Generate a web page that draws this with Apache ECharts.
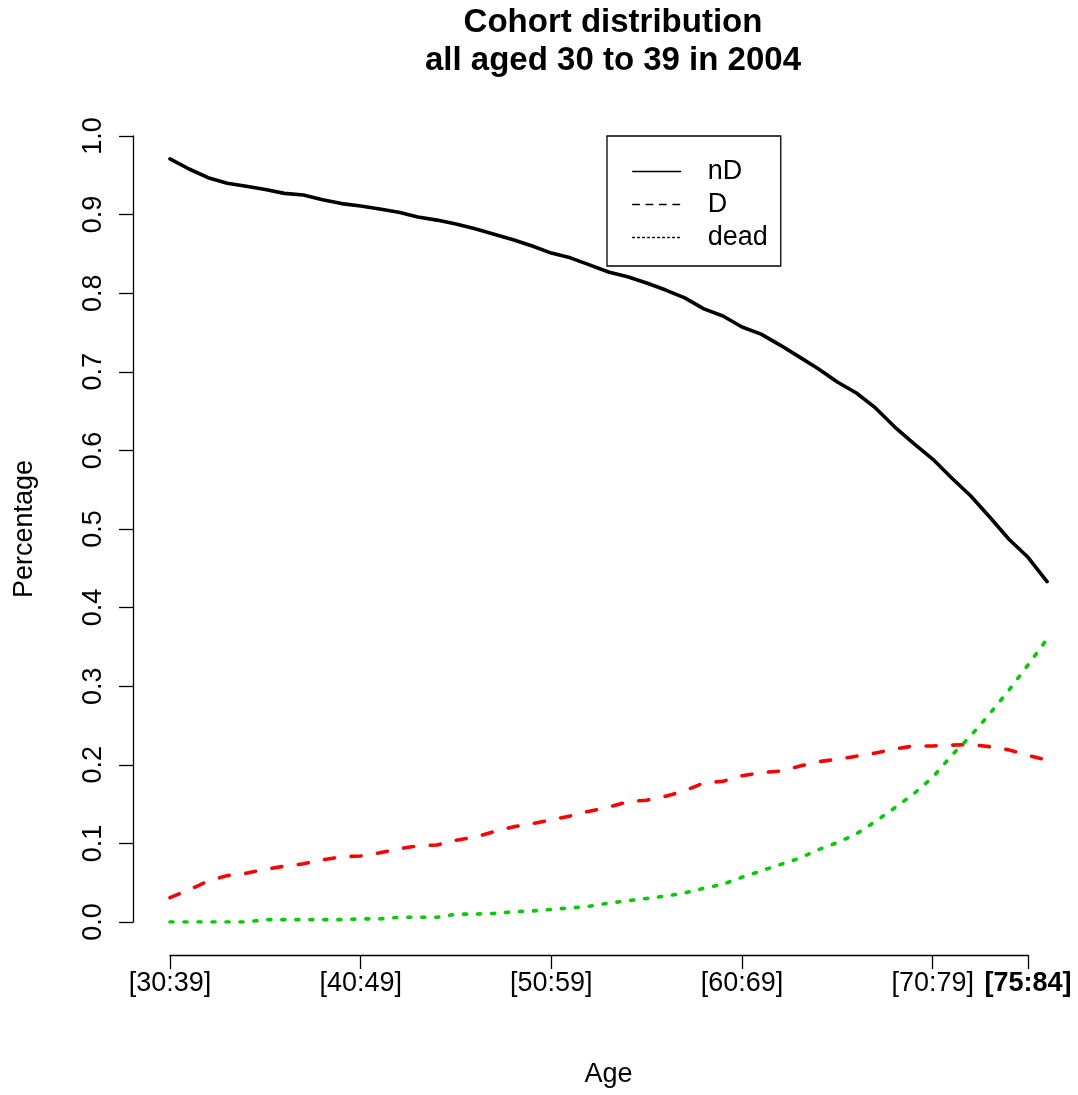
<!DOCTYPE html>
<html>
<head>
<meta charset="utf-8">
<title>Cohort distribution</title>
<script src="https://cdn.jsdelivr.net/npm/echarts@6/dist/echarts.min.js"></script>
<style>
  html, body { margin: 0; padding: 0; background: #fff; }
  #chart { width: 1078px; height: 1095px; }
</style>
</head>
<body>
<div id="chart"></div>
<script>
// Years elapsed since 2004 (0 .. 46)
const yearOffsets = Array.from({ length: 47 }, (_, i) => i);

// Share of the cohort in each state, one value per year
const nD = [0.971, 0.958, 0.947, 0.940, 0.936, 0.932, 0.927, 0.925, 0.919, 0.914,
            0.911, 0.907, 0.903, 0.897, 0.893, 0.888, 0.882, 0.875, 0.868, 0.860,
            0.851, 0.845, 0.836, 0.827, 0.821, 0.813, 0.804, 0.794, 0.780, 0.771,
            0.757, 0.748, 0.734, 0.719, 0.704, 0.687, 0.673, 0.654, 0.630, 0.609,
            0.589, 0.565, 0.542, 0.515, 0.487, 0.464, 0.433];
const D  = [0.031, 0.041, 0.052, 0.059, 0.062, 0.067, 0.071, 0.074, 0.079, 0.083,
            0.084, 0.088, 0.093, 0.097, 0.098, 0.104, 0.108, 0.115, 0.121, 0.125,
            0.130, 0.135, 0.141, 0.146, 0.153, 0.155, 0.160, 0.167, 0.177, 0.179,
            0.186, 0.190, 0.192, 0.198, 0.204, 0.207, 0.211, 0.215, 0.220, 0.224,
            0.224, 0.225, 0.226, 0.223, 0.219, 0.212, 0.206];
const dead = [0.000, 0.000, 0.000, 0.000, 0.000, 0.003, 0.003, 0.003, 0.003, 0.003,
              0.004, 0.004, 0.006, 0.006, 0.006, 0.010, 0.010, 0.011, 0.013, 0.014,
              0.016, 0.018, 0.020, 0.024, 0.027, 0.030, 0.033, 0.037, 0.043, 0.048,
              0.057, 0.065, 0.073, 0.081, 0.092, 0.101, 0.112, 0.128, 0.145, 0.163,
              0.184, 0.212, 0.237, 0.265, 0.295, 0.327, 0.360];

// Age-band tick marks along the time axis
const tickYears  = [0, 10, 20, 30, 40, 45];
const tickLabels = ['[30:39]', '[40:49]', '[50:59]', '[60:69]', '[70:79]', '[75:84]'];

const FONT = "'Liberation Sans', Arial, Helvetica, sans-serif";
const unit = (1028 - 170) / 45;   // pixels per year
const PLOT_TOP = 136, PLOT_H = 786; // y = 1 .. y = 0
const AXIS_X_Y = 955;               // baseline of the time axis
const AXIS_Y_X = 133;               // position of the share axis

const pairs = arr => arr.map((v, i) => [yearOffsets[i], v]);
const noSymbol = { color: 'rgba(0,0,0,0)', borderWidth: 0, opacity: 0 };

const chart = echarts.init(document.getElementById('chart'), null, { renderer: 'canvas' });

chart.setOption({
  animation: false,
  backgroundColor: '#ffffff',
  textStyle: { fontFamily: FONT, color: '#000' },
  title: {
    text: 'Cohort distribution\nall aged 30 to 39 in 2004',
    left: 608,
    top: -1,
    textAlign: 'center',
    textStyle: { fontFamily: FONT, fontSize: 33, fontWeight: 'bold', lineHeight: 38, color: '#000' }
  },
  legend: {
    orient: 'vertical',
    left: 607,
    top: 136,
    selectedMode: false,
    borderColor: '#000',
    borderWidth: 1.3,
    borderRadius: 0,
    padding: [22, 13, 15, 25],
    itemWidth: 48,
    itemHeight: 14,
    itemGap: 6,
    textStyle: { fontFamily: FONT, fontSize: 27, lineHeight: 27, color: '#000', padding: [0, 0, 0, 22] },
    data: [
      { name: 'nD',   itemStyle: noSymbol, lineStyle: { color: '#000', width: 1.4, type: 'solid' } },
      { name: 'D',    itemStyle: noSymbol, lineStyle: { color: '#000', width: 1.4, type: [6.7, 6.7] } },
      { name: 'dead', itemStyle: noSymbol, lineStyle: { color: '#000', width: 1.4, type: [1.7, 3.3] } }
    ]
  },
  grid: [
    // plotting area for the three curves
    { left: 170, top: PLOT_TOP, width: 46 * unit, height: PLOT_H },
    // time axis, spanning the first to the last age band
    { left: 170, top: PLOT_TOP, width: 45 * unit, height: AXIS_X_Y - PLOT_TOP },
    // share axis, drawn left of the curves
    { left: AXIS_Y_X, top: PLOT_TOP, width: 10, height: PLOT_H }
  ],
  xAxis: [
    {
      gridIndex: 0,
      type: 'value',
      min: 0,
      max: 46,
      axisLine: { show: false, onZero: false },
      axisTick: { show: false },
      axisLabel: { show: false },
      splitLine: { show: false },
      name: 'Age',
      nameLocation: 'middle',
      nameGap: 139,
      nameTextStyle: { fontFamily: FONT, fontSize: 27, color: '#000' }
    },
    {
      gridIndex: 1,
      type: 'value',
      position: 'bottom',
      min: 0,
      max: 45,
      axisLine: { show: true, onZero: false, lineStyle: { color: '#000', width: 1.3 } },
      axisTick: { show: true, inside: false, length: 14, lineStyle: { color: '#000', width: 1.3 }, customValues: tickYears },
      axisLabel: {
        inside: false,
        margin: 15,
        fontFamily: FONT,
        fontSize: 27,
        color: '#000',
        customValues: tickYears,
        formatter: v => {
          const k = tickYears.indexOf(v);
          return k === tickYears.length - 1 ? '{b|' + tickLabels[k] + '}' : tickLabels[k];
        },
        rich: { b: { fontFamily: FONT, fontSize: 27, fontWeight: 'bold', color: '#000' } }
      },
      splitLine: { show: false }
    },
    {
      gridIndex: 2,
      type: 'value',
      min: 0,
      max: 1,
      show: false
    }
  ],
  yAxis: [
    {
      gridIndex: 0,
      type: 'value',
      min: 0,
      max: 1,
      show: false
    },
    {
      gridIndex: 1,
      type: 'value',
      min: 0,
      max: 1,
      show: false
    },
    {
      gridIndex: 2,
      type: 'value',
      position: 'left',
      min: 0,
      max: 1,
      interval: 0.1,
      axisLine: { show: true, onZero: false, lineStyle: { color: '#000', width: 1.3 } },
      axisTick: { show: true, inside: false, length: 14, lineStyle: { color: '#000', width: 1.3 } },
      axisLabel: {
        rotate: 90,
        margin: 26,
        fontFamily: FONT,
        fontSize: 27,
        color: '#000',
        formatter: v => v.toFixed(1)
      },
      splitLine: { show: false },
      name: 'Percentage',
      nameLocation: 'middle',
      nameGap: 95,
      nameTextStyle: { fontFamily: FONT, fontSize: 27, color: '#000' }
    }
  ],
  series: [
    {
      name: 'nD',
      type: 'line',
      xAxisIndex: 0,
      yAxisIndex: 0,
      data: pairs(nD),
      symbol: 'none',
      lineStyle: { color: '#000000', width: 3.6, cap: 'round', join: 'round' },
      itemStyle: { color: '#000000' }
    },
    {
      name: 'D',
      type: 'line',
      xAxisIndex: 0,
      yAxisIndex: 0,
      data: pairs(D),
      symbol: 'none',
      lineStyle: { color: '#ff0000', width: 3.6, type: [10, 16.7], cap: 'round', join: 'round' },
      itemStyle: { color: '#ff0000' }
    },
    {
      name: 'dead',
      type: 'line',
      xAxisIndex: 0,
      yAxisIndex: 0,
      data: pairs(dead),
      symbol: 'none',
      lineStyle: { color: '#00cd00', width: 3.6, type: [3, 11], cap: 'round', join: 'round' },
      itemStyle: { color: '#00cd00' }
    }
  ]
});
</script>
</body>
</html>
